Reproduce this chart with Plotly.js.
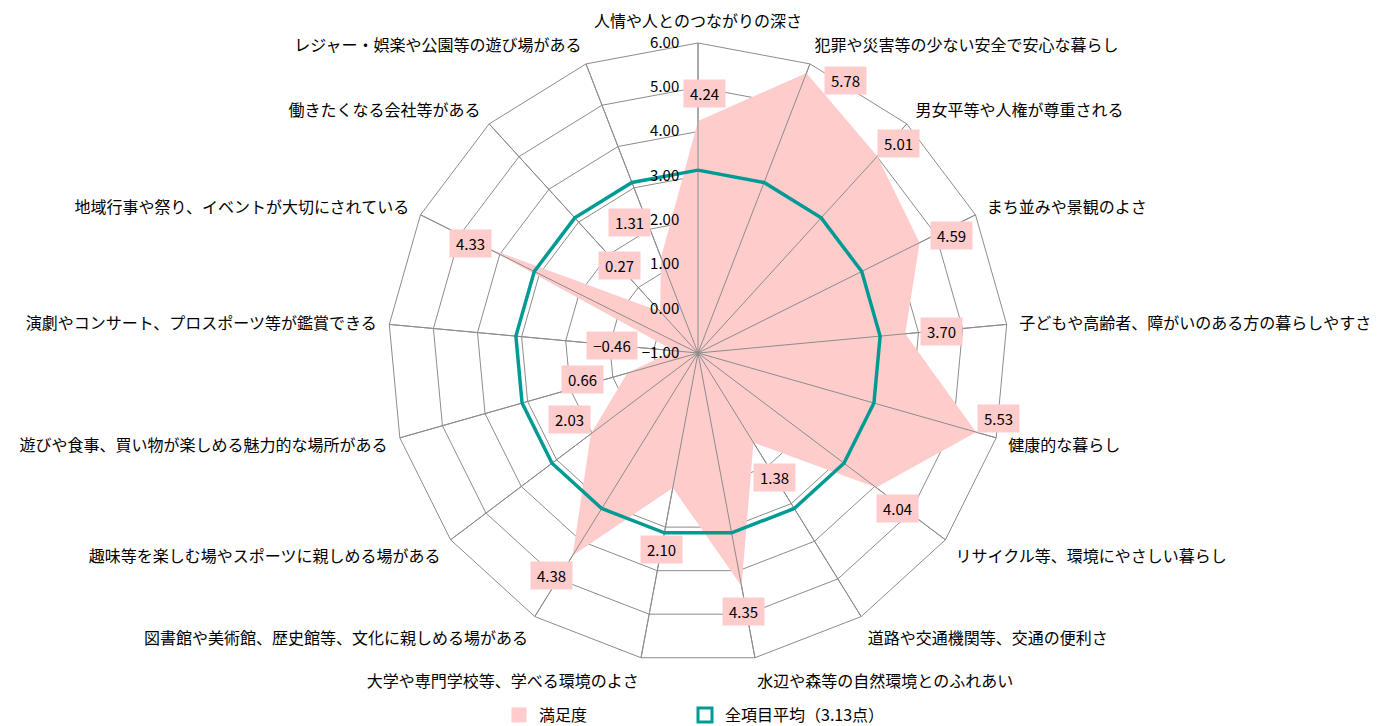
<!DOCTYPE html>
<html><head><meta charset="utf-8">
<script src="https://cdn.plot.ly/plotly-3.0.1.min.js"></script>
<style>html,body{margin:0;padding:0;background:#fff}</style>
</head><body><div id="chart" style="width:1392px;height:726px"></div>
<script>
const categories = [
  '人情や人とのつながりの深さ',
  '犯罪や災害等の少ない安全で安心な暮らし',
  '男女平等や人権が尊重される',
  'まち並みや景観のよさ',
  '子どもや高齢者、障がいのある方の暮らしやすさ',
  '健康的な暮らし',
  'リサイクル等、環境にやさしい暮らし',
  '道路や交通機関等、交通の便利さ',
  '水辺や森等の自然環境とのふれあい',
  '大学や専門学校等、学べる環境のよさ',
  '図書館や美術館、歴史館等、文化に親しめる場がある',
  '趣味等を楽しむ場やスポーツに親しめる場がある',
  '遊びや食事、買い物が楽しめる魅力的な場所がある',
  '演劇やコンサート、プロスポーツ等が鑑賞できる',
  '地域行事や祭り、イベントが大切にされている',
  '働きたくなる会社等がある',
  'レジャー・娯楽や公園等の遊び場がある'
];
const satisfaction = [4.24, 5.78, 5.01, 4.59, 3.70, 5.53, 4.04, 1.38, 4.35, 2.10, 4.38, 2.03, 0.66, -0.46, 4.33, 0.27, 1.31];
const overallAverage = 3.13;
const seriesNames = ['満足度', '全項目平均（3.13点）'];
const radialTicks = [-1, 0, 1, 2, 3, 4, 5, 6];

// label box offsets (px) from each data point
const labelDx = [7, 39, 21, 32, 36, 22, 21, 21, 2, -11, -21, -21, -45, -62, -16, -41, -32];
const labelDy = [-27, 7, -13, -7, -2, -14, 21, 35, 26, 62, 20, -14, 6, -5, -4, -46, -35];

const W = 1392, H = 726;
const FONT = '"Noto Sans CJK JP", "Noto Sans", sans-serif';
const PINK = '#FFCCCC', TEAL = '#009A94', GRID = '#8c8c8c';
const rMin = radialTicks[0], rMax = radialTicks[radialTicks.length - 1];
const domX = [388 / W, 1008 / W], domY = [1 - 663 / H, 1 - 43 / H];
const cxPx = (domX[0] + domX[1]) / 2 * W, cyPx = (1 - (domY[0] + domY[1]) / 2) * H;
const Rpx = (domX[1] - domX[0]) * W / 2;

const closeLoop = a => a.concat([a[0]]);

// spokes drawn over the fill
const spokeTheta = [], spokeR = [];
categories.forEach(c => { spokeTheta.push(c, c, c); spokeR.push(rMin, rMax, null); });

const traces = [
  {type: 'scatterpolar', theta: closeLoop(categories), r: closeLoop(satisfaction), mode: 'lines',
   fill: 'toself', fillcolor: PINK, line: {width: 0, color: PINK}, showlegend: false, hoverinfo: 'skip'},
  {type: 'scatterpolar', theta: spokeTheta, r: spokeR, mode: 'lines', connectgaps: false,
   line: {width: 1, color: GRID}, showlegend: false, hoverinfo: 'skip'},
  {type: 'scatterpolar', theta: closeLoop(categories), r: closeLoop(categories.map(() => overallAverage)),
   mode: 'lines', line: {width: 3.5, color: TEAL}, showlegend: false, hoverinfo: 'skip'},
  {type: 'scatterpolar', theta: [categories[0]], r: [null], mode: 'markers', name: seriesNames[0],
   legend: 'legend', marker: {symbol: 'square', size: 15, color: PINK}},
  {type: 'scatterpolar', theta: [categories[0]], r: [null], mode: 'markers', name: seriesNames[1],
   legend: 'legend2', marker: {symbol: 'square-open', size: 14, color: TEAL, line: {width: 3, color: TEAL}}}
];

const annotations = satisfaction.map((v, i) => {
  const ang = i / categories.length * 2 * Math.PI;
  const rp = (v - rMin) / (rMax - rMin) * Rpx;
  const px = cxPx + rp * Math.sin(ang), py = cyPx - rp * Math.cos(ang);
  const txt = v.toFixed(2).replace('-', '−');
  return {xref: 'paper', yref: 'paper', x: px / W, y: 1 - py / H, xanchor: 'center', yanchor: 'middle',
    xshift: labelDx[i], yshift: -labelDy[i], showarrow: false, text: txt,
    width: txt.length > 4 ? 42 : 33, height: 19,
    font: {family: FONT, size: 15, color: '#000'}, bgcolor: PINK, borderpad: 4};
});

const legendBase = {orientation: 'h', xanchor: 'left', y: 1 - 715 / H, yanchor: 'middle',
  font: {family: FONT, size: 16, color: '#000'}, bgcolor: 'rgba(0,0,0,0)'};

const layout = {
  width: W, height: H, margin: {l: 0, r: 0, t: 0, b: 0, autoexpand: false},
  paper_bgcolor: '#fff', font: {family: FONT, color: '#000'},
  showlegend: true,
  legend: Object.assign({}, legendBase, {x: 499 / W}),
  legend2: Object.assign({}, legendBase, {x: 685 / W}),
  polar: {
    domain: {x: domX, y: domY}, bgcolor: '#fff', gridshape: 'linear',
    radialaxis: {range: [rMin, rMax], tickvals: radialTicks, tickformat: '.2f', angle: 90, tickangle: 90,
      side: 'counterclockwise', showline: false, ticks: 'outside', ticklen: 13, tickcolor: 'rgba(0,0,0,0)',
      gridcolor: GRID, gridwidth: 1,
      tickfont: {family: FONT, size: 15, color: '#000'}, layer: 'above traces'},
    angularaxis: {type: 'category', direction: 'clockwise', rotation: 90, gridcolor: GRID, gridwidth: 1,
      linecolor: GRID, linewidth: 1, showline: true, ticks: 'outside', ticklen: 9, tickcolor: 'rgba(0,0,0,0)',
      tickfont: {family: FONT, size: 16, color: '#000'}, layer: 'above traces'}
  },
  annotations: annotations
};

Plotly.newPlot('chart', traces, layout, {displayModeBar: false, staticPlot: true});
</script></body></html>
